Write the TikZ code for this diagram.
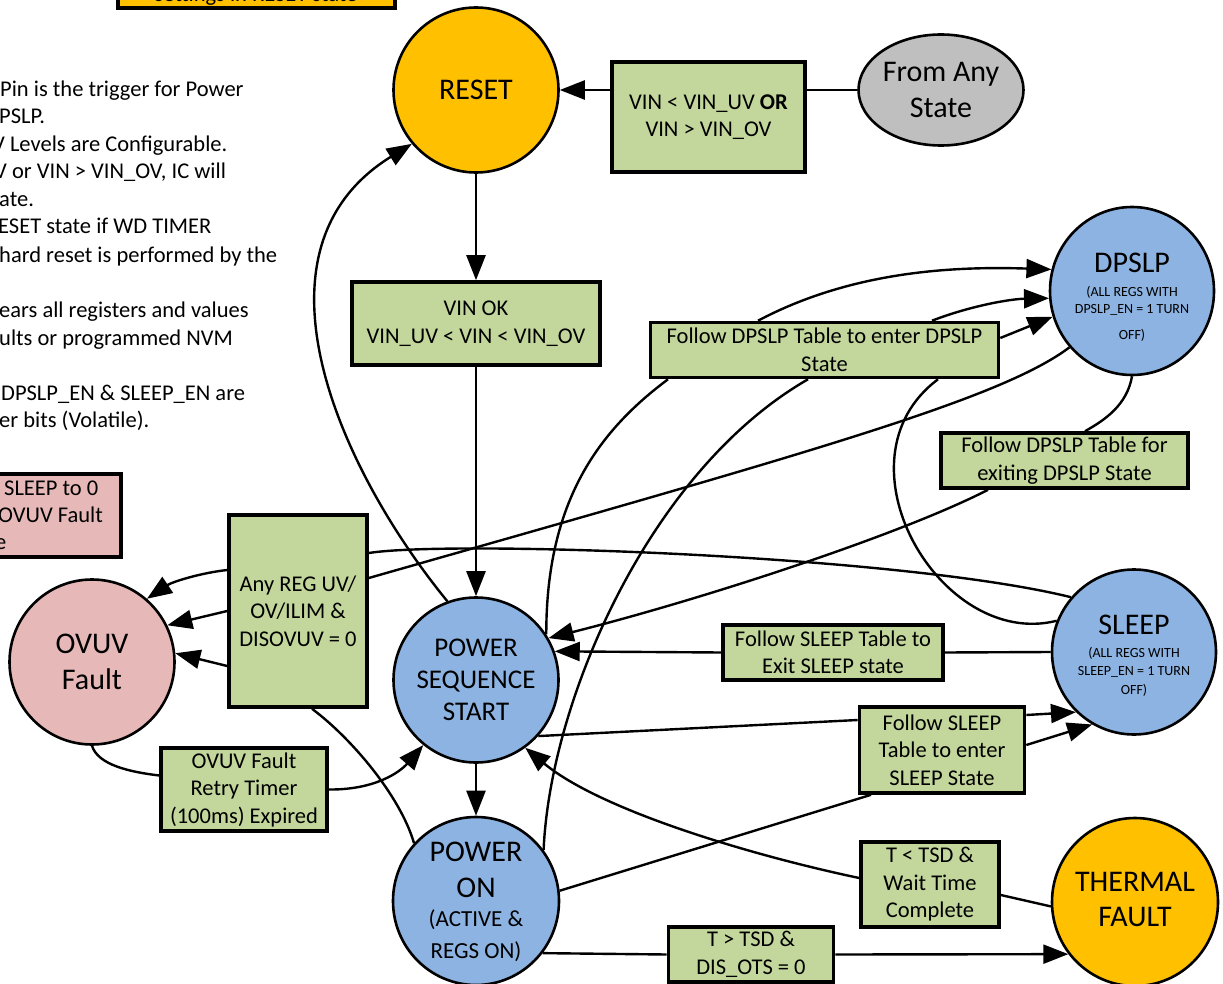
\documentclass[tikz,border=0pt]{standalone}
\usepackage{fontspec}
\setmainfont{Carlito}
\usetikzlibrary{arrows.meta,shapes.geometric,calc}
\definecolor{stblue}{HTML}{8DB3E2}
\definecolor{storange}{HTML}{FFC000}
\definecolor{stpink}{HTML}{E6B9B8}
\definecolor{stgray}{HTML}{BFBFBF}
\definecolor{boxgreen}{HTML}{C3D69B}
\begin{document}
\begin{tikzpicture}[x=1pt,y=-1pt,
  state/.style={draw, line width=2.6pt, ellipse, inner sep=0pt},
  bx/.style={draw, line width=3.6pt, fill=boxgreen, rectangle, inner sep=0pt, align=center, font=\fontsize{22.5}{27.5}\selectfont},
  conn/.style={line width=2.4pt},
  arr/.style={line width=2.4pt, -{Triangle[length=25pt,width=19pt]}},
  note/.style={anchor=base west, inner sep=0pt, font=\fontsize{22.5}{27.5}\selectfont},
  title/.style={inner sep=0pt, align=center, font=\fontsize{30}{36}\selectfont},
  small/.style={inner sep=0pt, font=\fontsize{14}{18}\selectfont}]
\useasboundingbox (0,0) rectangle (1223,984);
\begin{scope}
\clip (0,0) rectangle (1223,984);
% notes and clipped boxes
\node[draw, line width=3.6pt, fill=storange, minimum width=277pt, minimum height=60pt, inner sep=0pt] (topbox) at (256.5,-22) {};
\node[anchor=base, inner sep=0pt, font=\fontsize{22.5}{27.5}\selectfont] (topT) at (256,2) {settings in RESET state};
\node[note] (n1) at (0,97) {Pin is the trigger for Power};
\node[note] (n2) at (-1,124) {PSLP.};
\node[note] (n3) at (-8,152) {V Levels are Configurable.};
\node[note] (n4) at (-6,179) {V or VIN > VIN\_OV, IC will};
\node[note] (n5) at (-1,207) {ate.};
\node[note] (n6) at (-2,234) {ESET state if WD TIMER};
\node[note] (n7) at (-1,262) {hard reset is performed by the};
\node[note] (n8) at (-1,317) {ears all registers and values};
\node[note] (n9) at (-1,345) {ults or programmed NVM};
\node[note] (n10) at (1,400) {DPSLP\_EN \& SLEEP\_EN are};
\node[note] (n11) at (-1,427) {er bits (Volatile).};
\node[draw, line width=3.6pt, fill=stpink, minimum width=301pt, minimum height=83pt, inner sep=0pt] (pinkbox) at (-29.5,515.5) {};
\node[note] (p1) at (4,495) {SLEEP to 0};
\node[note] (p2) at (-2,522) {OVUV Fault};
\node[note] (p3) at (-5,549) {e};
% states
\node[state, fill=storange, minimum width=165pt, minimum height=165pt] (reset) at (476,90) {};
\node[title] (resetT) at (476,90) {RESET};
\node[state, fill=stgray, minimum width=165pt, minimum height=111pt] (any) at (941,90) {};
\node[title] (anyT) at (941,90) {From Any\\State};
\node[state, fill=stblue, minimum width=164pt, minimum height=168pt] (dpslp) at (1132,291) {};
\node[title] (dpslpT) at (1132,263) {DPSLP};
\node[small] (dps1) at (1132,292) {(ALL REGS WITH};
\node[small] (dps2) at (1132,310) {DPSLP\_EN = 1 TURN};
\node[small] (dps3) at (1132,335) {OFF)};
\node[state, fill=stblue, minimum width=164pt, minimum height=165pt] (sleep) at (1134,652) {};
\node[title] (sleepT) at (1134,625) {SLEEP};
\node[small] (sl1) at (1134,653) {(ALL REGS WITH};
\node[small] (sl2) at (1134,672) {SLEEP\_EN = 1 TURN};
\node[small] (sl3) at (1134,690) {OFF)};
\node[state, fill=stblue, minimum width=165pt, minimum height=165pt] (pss) at (476,680) {};
\node[inner sep=0pt, align=center, font=\fontsize{27}{32}\selectfont] (pssT) at (476,680) {POWER\\SEQUENCE\\START};
\node[state, fill=stblue, minimum width=166pt, minimum height=168pt] (pon) at (476,901) {};
\node[title] (ponT) at (476,870) {POWER\\ON};
\node[inner sep=0pt, align=center, font=\fontsize{23}{32}\selectfont] (ponT2) at (476,936) {(ACTIVE \&\\REGS ON)};
\node[state, fill=storange, minimum width=166pt, minimum height=168pt] (thermal) at (1135,902) {};
\node[inner sep=0pt, align=center, font=\fontsize{30}{35}\selectfont] (thermalT) at (1135,899) {THERMAL\\FAULT};
\node[state, fill=stpink, minimum width=165pt, minimum height=165pt] (ovuv) at (92,662) {};
\node[title] (ovuvT) at (92,662) {OVUV\\Fault};
% condition boxes
\node[bx, minimum width=193pt, minimum height=110pt] (vinbox) at (708.5,117) {VIN < VIN\_UV \textbf{OR}\\VIN > VIN\_OV};
\node[bx, minimum width=248pt, minimum height=83pt] (vinok) at (476,323.5) {VIN OK\\VIN\_UV < VIN < VIN\_OV};
\node[bx, minimum width=348pt, minimum height=55pt] (dpin) at (824.5,350) {Follow DPSLP Table to enter DPSLP\\State};
\node[bx, minimum width=247pt, minimum height=55pt] (dpout) at (1064.5,460.5) {Follow DPSLP Table for\\exiting DPSLP State};
\node[bx, minimum width=138pt, minimum height=192pt] (anyreg) at (298,611) {Any REG UV/\\OV/ILIM \&\\DISOVUV = 0};
\node[bx, minimum width=166pt, minimum height=83pt] (retry) at (244,789.5) {OVUV Fault\\Retry Timer\\(100ms) Expired};
\node[bx, minimum width=220pt, minimum height=55pt] (slexit) at (833,652.5) {Follow SLEEP Table to\\Exit SLEEP state};
\node[bx, minimum width=165pt, minimum height=86pt] (slenter) at (942,750) {Follow SLEEP\\Table to enter\\SLEEP State};
\node[bx, minimum width=138pt, minimum height=85pt] (tsdwait) at (930,884.5) {T < TSD \&\\Wait Time\\Complete};
\node[bx, minimum width=165pt, minimum height=55pt] (tsdgt) at (751,954.5) {T > TSD \&\\DIS\_OTS = 0};
% connectors
\draw[conn] (any.west) -- (any.west -| vinbox.east);
\draw[arr] ([yshift=27pt]vinbox.west) -- (reset.east);
\draw[arr] (reset.south) -- (vinok.north);
\draw[arr] (vinok.south) -- (pss.north);
\draw[arr] (pss.south) -- (pon.north);
\draw[arr] (pss.110) .. controls (340,470) and (240,250) .. (reset.220);
\draw[conn] (pon.137) .. controls (400,795) and (350,737) .. ([xshift=14pt]anyreg.south);
\draw[arr] ([yshift=41pt]anyreg.west) .. controls (200,573) and (172,582) .. (ovuv.49);
\draw[arr] (anyreg.west) -- (ovuv.26);
\draw[arr] ([yshift=-55pt]anyreg.west) -- (ovuv.6);
\draw[conn] (dpslp.222) .. controls (1000,400) and (800,455) .. ([yshift=33pt]anyreg.east);
\draw[conn] (sleep.139) .. controls (900,555) and (450,540) .. ([yshift=58pt]anyreg.east);
\draw[conn] (ovuv.south) .. controls (98,765) and (130,772) .. ([yshift=14pt]retry.west);
\draw[arr] (retry.east) .. controls (375,790) and (400,772) .. (pss.231);
\draw[conn] (pss.33) .. controls (546,500) and (600,430) .. ([xshift=-156.5pt]dpin.south);
\draw[conn] (pon.37) .. controls (550,700) and (650,470) .. ([xshift=-16.5pt]dpin.south);
\draw[conn] (sleep.158) .. controls (940,650) and (830,460) .. ([xshift=113.5pt]dpin.south);
\draw[arr] ([xshift=-66.5pt]dpin.north) .. controls (850,272) and (950,266) .. (dpslp.165);
\draw[arr] ([xshift=107.5pt]dpin.north) .. controls (970,306) and (1010,299) .. (dpslp.185);
\draw[arr] ([yshift=12pt]dpin.east) -- (dpslp.198);
\draw[conn] (dpslp.south) .. controls (1127,405) and (1105,420) .. ([xshift=20.5pt]dpout.north);
\draw[arr] ([xshift=-76.5pt]dpout.south) .. controls (900,535) and (700,600) .. (pss.30);
\draw[conn] (sleep.west) -- (slexit.east);
\draw[arr] (slexit.west) -- (pss.20);
\draw[conn] (pss.318) -- ([yshift=30pt]slenter.west);
\draw[arr] ([yshift=35pt]slenter.east) -- (sleep.226);
\draw[arr] ([yshift=5pt]slenter.east) -- (sleep.240);
\draw[conn] (pon.7) -- ([xshift=-71pt]slenter.south);
\draw[conn] (thermal.183) -- ([yshift=-10.5pt]tsdwait.east);
\draw[arr] ([yshift=6.5pt]tsdwait.west) .. controls (750,855) and (600,810) .. (pss.306);
\draw[conn] (pon.322) -- (tsdgt.west);
\draw[arr] (tsdgt.east) -- (thermal.218);
\end{scope}
\end{tikzpicture}
\end{document}
